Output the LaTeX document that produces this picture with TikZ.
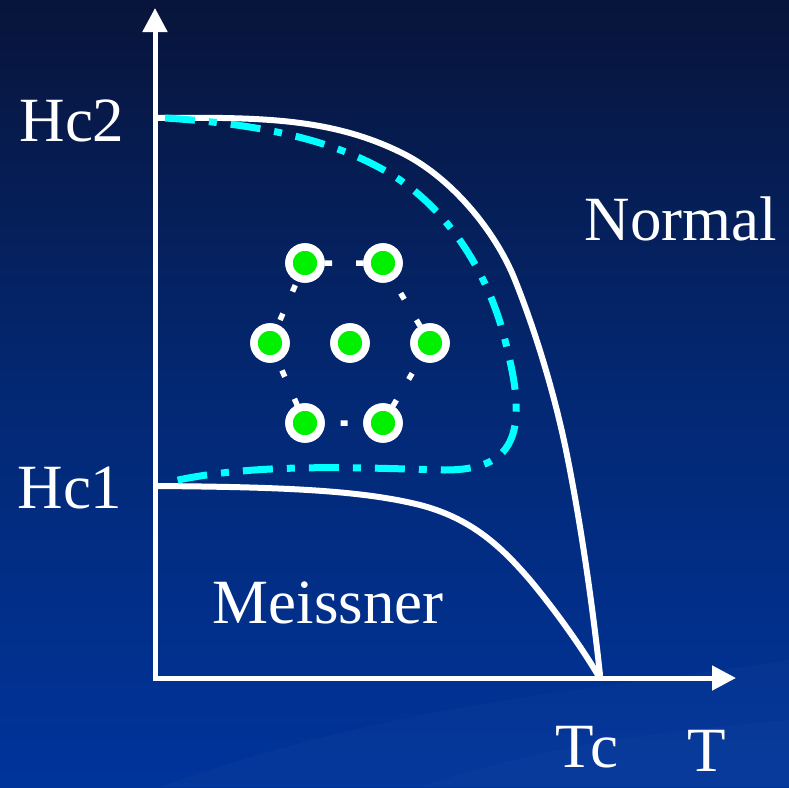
\documentclass[tikz,border=0pt]{standalone}
\usepackage{fontspec}
\setmainfont{Liberation Serif}
\usetikzlibrary{arrows.meta}
\definecolor{bgtop}{RGB}{8,20,58}
\definecolor{bgmid}{RGB}{3,40,115}
\definecolor{bgbot}{RGB}{0,52,155}
\definecolor{vcyan}{RGB}{0,255,255}
\definecolor{vgreen}{RGB}{0,240,0}
\tikzset{
  lbl/.style={text=white, font=\fontsize{63}{70}\selectfont, inner sep=0pt},
  axisline/.style={white, line width=5pt, -{Triangle[length=24pt,width=24pt]}},
  phase/.style={white, line width=6pt, line cap=round, line join=round},
  dashdot/.style={vcyan, line width=7pt, dash pattern=on 30pt off 14pt on 8pt off 14pt},
  hexdots/.style={white, line width=5.5pt, dash pattern=on 7pt off 24pt},
  vortex/.style={circle, fill=vgreen, draw=white, line width=7.5pt, minimum size=32pt, inner sep=0pt}
}
\begin{document}
\begin{tikzpicture}[x=1pt,y=-1pt]
\useasboundingbox (0,0) rectangle (789,787);
% background
\shade[top color=bgtop, bottom color=bgbot, middle color=bgmid] (0,0) rectangle (789,787);
\fill[white, opacity=0.018] (160,787) .. controls (400,700) and (600,690) .. (789,660) -- (789,787) -- cycle;
\fill[white, opacity=0.015] (420,787) .. controls (560,740) and (680,730) .. (789,720) -- (789,787) -- cycle;

% axes
\coordinate (O) at (155,678);
\coordinate (ytip) at (155,8);
\coordinate (xtip) at (736,678);
\draw[axisline] (155,680.5) -- (ytip);
\draw[axisline] (152.5,678) -- (xtip);

% Hc2 curve
\draw[phase] (157,118) .. controls (260,117) and (330,118) .. (400,152)
  .. controls (450,176) and (495,230) .. (515,280)
  .. controls (535,330) and (555,395) .. (567,455)
  .. controls (580,520) and (592,600) .. (600,675);
% Hc1 curve
\draw[phase] (157,486) .. controls (280,487) and (360,490) .. (420,505)
  .. controls (470,518) and (500,545) .. (530,580)
  .. controls (555,610) and (580,645) .. (598,675);

% cyan dash-dot boundary
\draw[dashdot] (165,118) .. controls (260,124) and (340,140) .. (400,180)
  .. controls (455,218) and (490,280) .. (505,340)
  .. controls (515,380) and (518,400) .. (515,425)
  .. controls (510,455) and (490,470) .. (445,470)
  .. controls (360,468) and (250,462) .. (165,483);

% vortex lattice
\node[vortex] (vc) at (350,343) {};
\node[vortex] (v1) at (305,263) {};
\node[vortex] (v2) at (383,263) {};
\node[vortex] (v3) at (430,343) {};
\node[vortex] (v4) at (383,423) {};
\node[vortex] (v5) at (305,423) {};
\node[vortex] (v6) at (270,343) {};
\draw[hexdots, dash phase=-20pt] (v1.center) -- (v2.center) -- (v3.center) -- (v4.center) -- (v5.center) -- (v6.center) -- cycle;
\foreach \v in {vc,v1,v2,v3,v4,v5,v6} \node[vortex] at (\v) {};

% labels
\node[lbl] (hc2) at (72,121) {Hc2};
\node[lbl] (hc1) at (70,488) {Hc1};
\node[lbl] (normal) at (681,219) {Normal};
\node[lbl] (meissner) at (328,603) {Meissner};
\node[lbl] (tc) at (587,747) {Tc};
\node[lbl] (t) at (707,751) {T};
\end{tikzpicture}
\end{document}
